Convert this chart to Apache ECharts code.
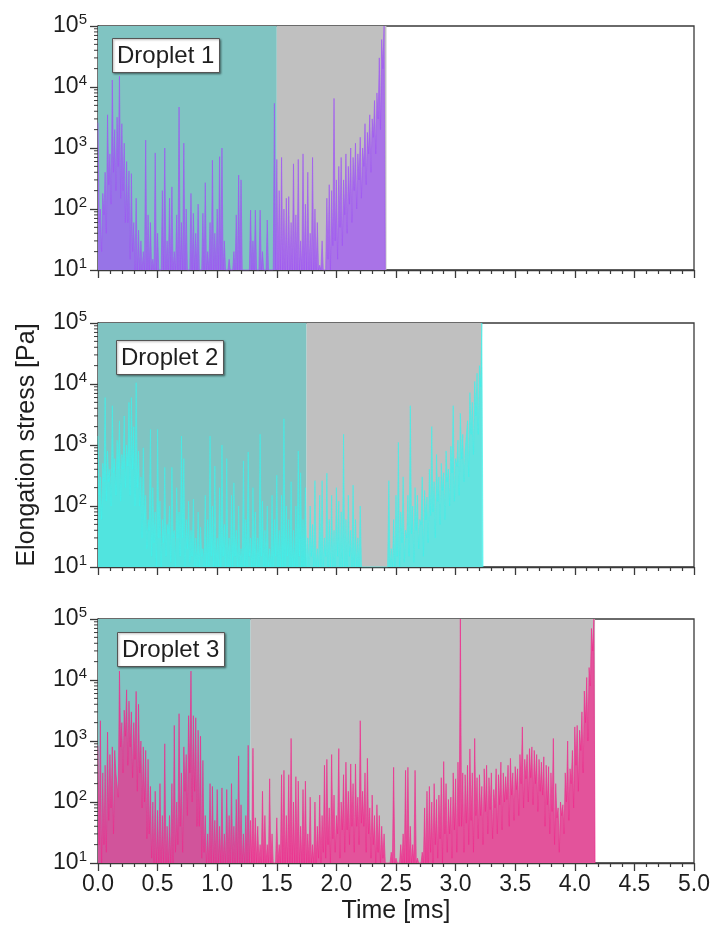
<!DOCTYPE html>
<html><head><meta charset="utf-8">
<script src="https://cdn.jsdelivr.net/npm/echarts@6/dist/echarts.min.js"></script>
<style>html,body{margin:0;padding:0;background:#fff}#c{width:714px;height:931px}</style>
</head><body><div id="c"></div>
<script>
// ---- data ----
const sampleStep = 0.02; // ms between sampled spikes
const xTickLabels = ['0.0','0.5','1.0','1.5','2.0','2.5','3.0','3.5','4.0','4.5','5.0'];
const yTickExponents = [1,2,3,4,5];
const dropletNames = ['Droplet 1','Droplet 2','Droplet 3'];
// phase bounds [start, end of teal phase, end of gray phase] in ms
const d1Phases = [0, 1.5, 2.42];
const d2Phases = [0, 1.75, 3.22];
const d3Phases = [0, 1.28, 4.17];

const d1Peaks = [2600,100,180,400,3500,800,13000,2000,3200,15000,
2500,1200,600,420,380,60,150,45,30,20,
1350,80,60,15,830,40,10,200,1000,30,
150,230,20,80,4700,60,1200,100,10,180,
85,40,120,10,85,270,20,60,630,40,
100,720,1000,30,10,15,10,20,80,360,
300,10,10,10,96,30,96,10,96,20,
10,66,10,10,5400,650,200,700,100,150,
160,60,550,80,650,30,800,120,400,40,
700,100,60,12,30,10,150,250,200,6500,
300,500,700,300,800,500,1000,700,1200,800,
1500,1000,2500,1800,3500,3000,6000,8000,30000,60000,
100000];
const d1Floors = [60,20,80,40,250,120,400,200,500,150,200,60,60,15,20,
10,10,10,10,10,10,10,10,10,10,10,10,10,10,10,
10,10,10,10,10,10,10,10,10,10,10,10,10,10,10,
10,10,10,10,10,10,10,10,10,10,10,10,10,10,10,
10,10,10,10,10,10,10,10,10,10,10,10,10,10,10,
10,10,10,10,10,10,10,10,10,10,10,10,10,10,10,10,10,10,
10,10,10,15,10,25,
30,15,50,25,80,40,120,60,200,100,300,150,500,250,800,400,1500,800,3000,2000,20000,
10];

const d2Peaks = [1400,300,500,6000,800,400,4400,600,1200,2500,
700,3000,1000,5000,6000,2000,10500,800,300,900,
150,60,1800,200,80,1800,120,60,430,50,
100,430,40,200,80,1400,600,60,120,40,
130,30,80,45,20,150,60,1400,100,450,
30,200,1000,50,600,30,150,240,40,100,
20,550,60,770,30,200,80,30,1500,120,
40,100,20,150,60,320,40,150,2700,100,
60,250,40,100,800,350,60,200,30,100,
50,260,20,150,260,30,345,60,150,40,
200,120,80,1500,60,150,40,220,60,30,
100,10,10,10,10,10,10,10,10,10,
10,10,260,20,60,150,1100,80,300,40,
150,4400,100,200,150,60,300,180,140,400,
2000,250,700,300,500,350,800,400,950,4400,
600,1200,3300,1500,800,2500,7200,5000,11000,15000,
20000,100000];
const d2Floors = [150,60,250,120,250,100,350,150,400,120,400,200,450,150,400,100,200,
100,30,60,20,40,15,25,10,
30,10,25,15,35,12,30,10,30,15,30,10,20,12,15,10,
10,10,15,10,10,10,15,10,10,10,10,15,10,10,10,10,15,10,10,10,
10,10,15,10,10,10,10,15,10,10,10,10,10,15,10,10,10,10,15,10,
10,10,10,15,10,10,10,10,15,10,10,10,10,10,15,10,10,10,10,15,
10,10,10,10,15,10,10,10,10,10,
10,10,10,10,10,10,10,10,10,10,10,
10,10,10,15,10,25,12,30,15,35,12,40,20,50,15,60,25,70,
80,30,120,50,180,60,250,100,350,120,450,150,600,250,800,300,1500,700,3000,1500,9000,
10];

const d3Peaks = [840,2150,300,400,1400,600,800,700,300,14000,
2000,3200,6900,4500,3000,2000,6500,4000,1000,800,
700,500,180,100,150,73,200,60,900,40,
60,200,1800,100,2800,300,800,600,2600,14000,
2600,2400,1500,1200,480,60,30,200,180,50,
160,40,170,30,160,60,200,40,110,570,
90,30,60,850,50,760,55,40,20,150,
60,20,240,30,10,55,20,280,330,60,
280,1100,100,260,220,40,160,220,30,120,
20,100,40,130,60,400,500,80,600,130,
60,750,100,280,450,150,420,200,420,120,
2150,150,300,520,80,130,60,90,60,40,
30,10,10,15,370,12,10,20,30,330,
370,40,20,330,12,10,15,80,150,180,
100,200,110,130,250,460,200,110,120,300,
240,450,100000,300,280,400,740,300,1100,250,
280,180,350,400,250,300,160,350,280,450,
300,260,400,520,300,380,350,600,1700,500,
600,750,800,700,600,500,450,550,400,380,
300,1100,200,80,100,90,300,1000,350,700,
1700,1800,1500,3000,6600,11000,16000,70000,100000];
const d3Floors = [20,10,20,15,50,
80,30,300,120,800,300,1200,400,800,250,500,150,300,80,100,25,30,12,
10,10,10,10,10,10,10,10,10,15,20,
40,15,150,60,300,100,150,40,40,12,15,
10,10,10,10,10,10,10,10,10,10,10,10,10,10,10,10,10,10,10,10,10,10,10,10,
10,10,10,10,10,10,10,10,10,10,10,10,10,10,10,10,10,10,10,10,10,10,10,
12,10,15,12,20,10,25,15,30,12,35,15,35,20,40,15,40,20,45,
40,15,30,12,20,10,15,10,12,10,
10,10,10,10,10,10,10,10,10,10,10,10,10,10,10,10,10,10,
15,10,20,12,25,10,30,15,30,12,35,15,40,
40,15,45,20,50,15,60,25,60,20,70,30,75,25,80,30,90,35,100,
110,40,130,50,160,60,200,80,240,100,250,90,200,70,150,
130,40,90,30,70,20,55,15,60,30,
100,50,200,80,400,150,700,300,2000,1000,8000,30000,
10];

const minorMantissas = [2,3,4,5,6,7,8,9];
const minorDecades = [10,100,1000,10000];

// ---- styles ----
const FONT = 'Liberation Sans, Arial, sans-serif';
const TEAL = '#80c4c2', GRAY = '#c0c0c0';
const COLORS = ['#a055f5', '#3ff0ea', '#f0288c'];
const gridTops = [26, 323, 619];
const gridH = 244;

function build(peaks, floors) {
  const out = [];
  for (let i = 0; i < peaks.length; i++) {
    const t = i * sampleStep;
    out.push([+t.toFixed(3), peaks[i]]);
    out.push([+(t + sampleStep / 2).toFixed(3), floors[i]]);
  }
  return out;
}
const dataSets = [build(d1Peaks, d1Floors), build(d2Peaks, d2Floors), build(d3Peaks, d3Floors)];
const phases = [d1Phases, d2Phases, d3Phases];
const minorTickData = [];
minorDecades.forEach(d => minorMantissas.forEach(m => minorTickData.push([0, m * d])));

const grids = [], xAxes = [], yAxes = [], series = [], titles = [];
for (let k = 0; k < 3; k++) {
  grids.push({left: 98, width: 596, top: gridTops[k], height: gridH, show: true,
    borderColor: '#3a3a3a', borderWidth: 1.3, backgroundColor: '#fff'});
  xAxes.push({type: 'value', gridIndex: k, min: 0, max: 5, interval: 0.5,
    axisLine: {show: true, onZero: false, lineStyle: {color: '#3a3a3a', width: 1.3}},
    axisTick: {show: true, length: 8, lineStyle: {color: '#3a3a3a', width: 1.3}},
    minorTick: {show: true, splitNumber: 5, length: 4, lineStyle: {color: '#3a3a3a', width: 1.2}},
    splitLine: {show: false},
    axisLabel: {show: k === 2, fontSize: 23, color: '#1e1e1e', fontFamily: FONT, margin: 10,
      formatter: v => xTickLabels[Math.round(v / 0.5)]},
    name: k === 2 ? 'Time [ms]' : '', nameLocation: 'middle', nameGap: 36,
    nameTextStyle: {fontSize: 25, color: '#1e1e1e', fontFamily: FONT}});
  yAxes.push({type: 'log', logBase: 10, gridIndex: k, min: 10, max: 100000,
    axisLine: {show: true, lineStyle: {color: '#3a3a3a', width: 1.3}},
    axisTick: {show: true, length: 8, lineStyle: {color: '#3a3a3a', width: 1.3}},
    splitLine: {show: false},
    axisLabel: {color: '#1e1e1e', fontFamily: FONT, margin: 11,
      formatter: v => '{b|10}{s|' + yTickExponents[Math.round(Math.log10(v)) - 1] + '}',
      rich: {b: {fontSize: 23, color: '#1e1e1e', fontFamily: FONT},
             s: {fontSize: 15, color: '#1e1e1e', fontFamily: FONT, padding: [0, 0, 13, 0]}}},
    name: k === 1 ? 'Elongation stress [Pa]' : '', nameLocation: 'middle', nameGap: 58,
    nameTextStyle: {fontSize: 25, color: '#1e1e1e', fontFamily: FONT}});
  const ph = phases[k];
  series.push({type: 'line', xAxisIndex: k, yAxisIndex: k, data: [], silent: true, z: 1,
    markArea: {silent: true, data: [
      [{xAxis: ph[0], itemStyle: {color: TEAL, opacity: 1}}, {xAxis: ph[1]}],
      [{xAxis: ph[1], itemStyle: {color: GRAY, opacity: 1}}, {xAxis: ph[2]}]
    ]}});
  series.push({type: 'line', xAxisIndex: k, yAxisIndex: k, data: dataSets[k], z: 3,
    showSymbol: false, symbol: 'none', sampling: null, animation: false, silent: true,
    lineStyle: {color: COLORS[k], width: 0.9, opacity: 0.7},
    areaStyle: {color: COLORS[k], opacity: 0.72, origin: 'start'}});
  series.push({type: 'custom', xAxisIndex: k, yAxisIndex: k, data: minorTickData, clip: false, silent: true, z: 5,
    renderItem: (params, api) => {
      const p = api.coord([api.value(0), api.value(1)]);
      return {type: 'line', shape: {x1: p[0] - 4, y1: p[1], x2: p[0], y2: p[1]},
        style: {stroke: '#3a3a3a', lineWidth: 1}};
    }});
  titles.push({text: dropletNames[k], left: [112, 116, 117][k], top: [38, 340, 632][k],
    backgroundColor: '#fff', borderColor: '#555', borderWidth: 1, padding: [6, 5, 5, 5],
    shadowColor: 'rgba(0,0,0,0.35)', shadowBlur: 2, shadowOffsetX: 1, shadowOffsetY: 1,
    textStyle: {fontSize: 24, fontWeight: 'normal', color: '#1e1e1e', fontFamily: FONT}});
}

const chart = echarts.init(document.getElementById('c'), null, {renderer: 'canvas'});
chart.setOption({animation: false, backgroundColor: '#fff', title: titles,
  grid: grids, xAxis: xAxes, yAxis: yAxes, series: series});
</script></body></html>
